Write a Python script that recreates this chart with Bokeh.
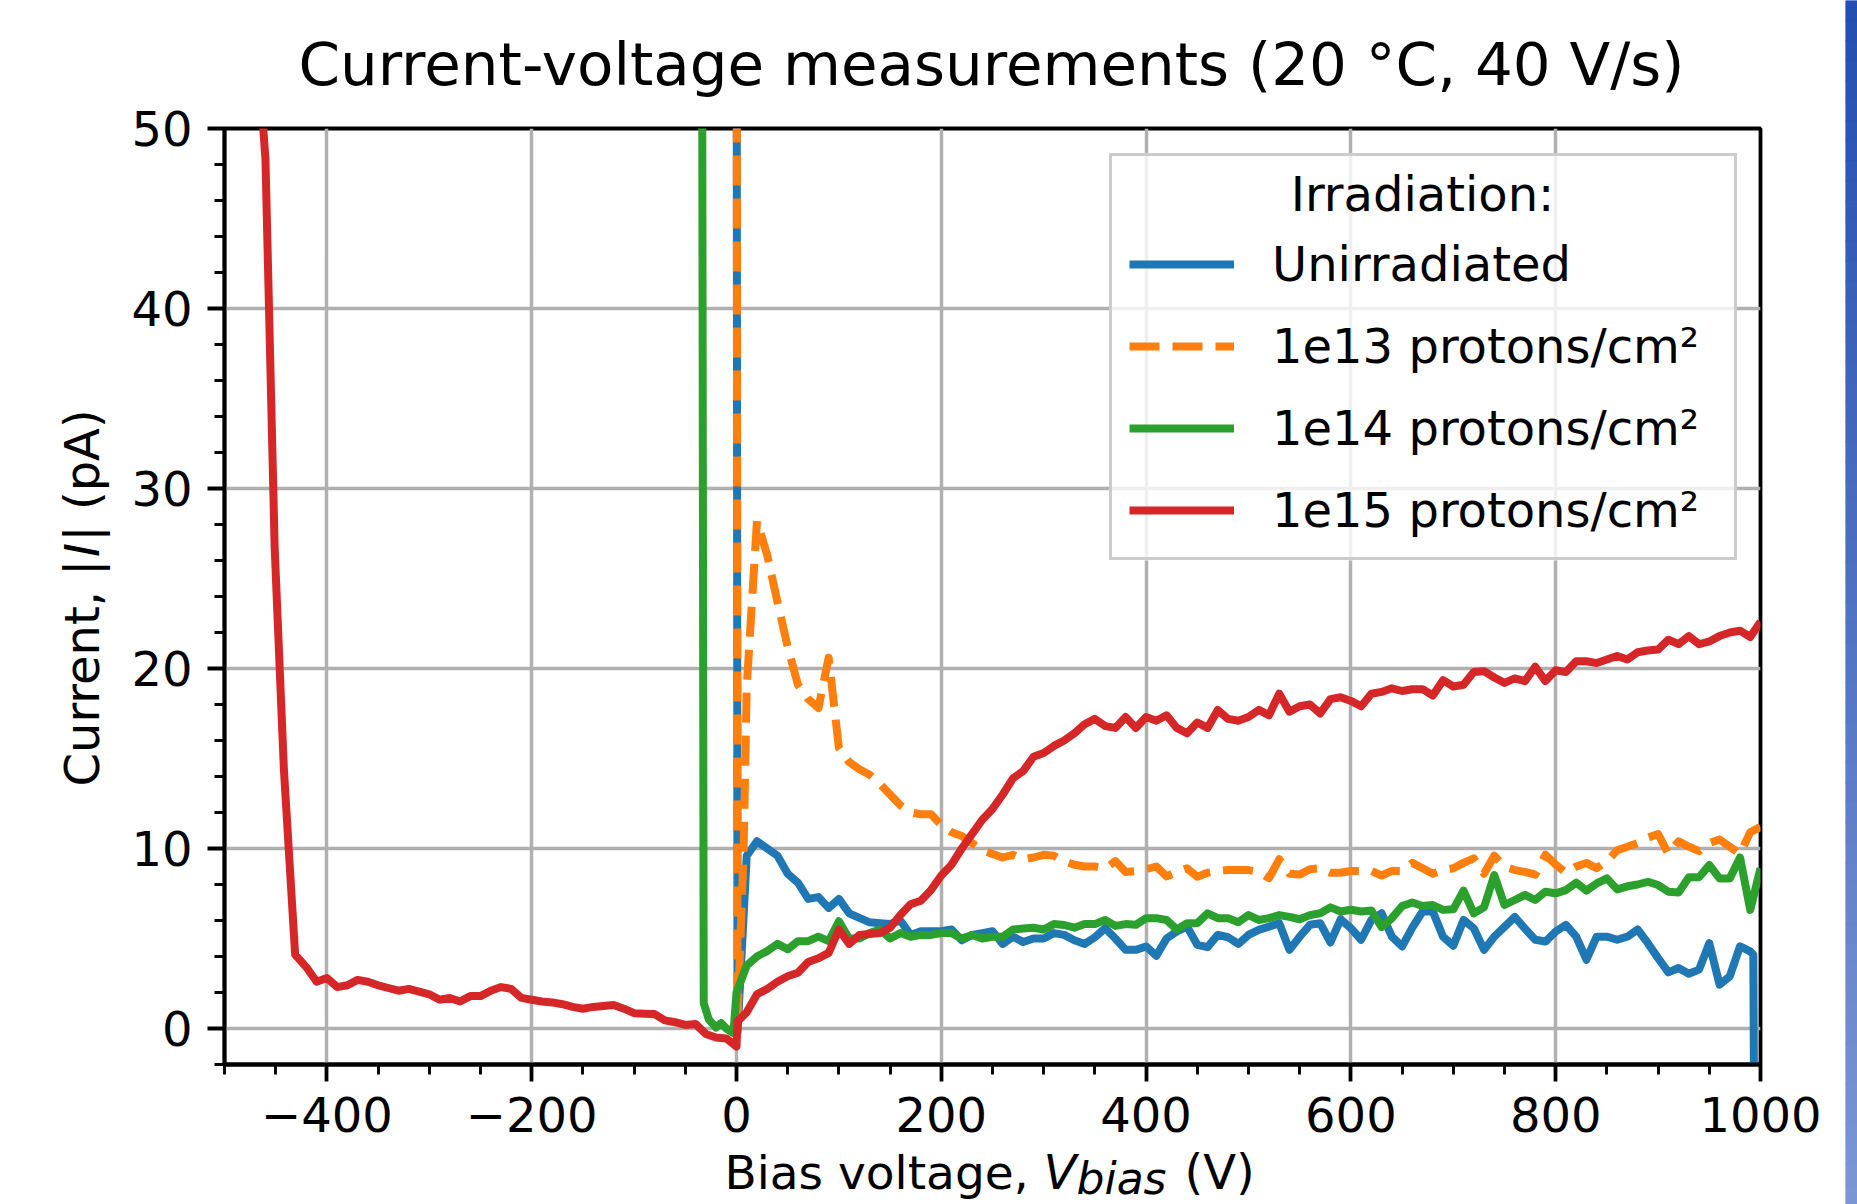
from bokeh.plotting import figure
from bokeh.layouts import row, column
from bokeh.models import Range1d, FixedTicker, Label, Legend, LegendItem, BoxAnnotation
from bokeh.embed import file_html
from bokeh.resources import INLINE

# ---------------- data ----------------
v_unirr = [0, 1, 10, 20, 30, 40, 50, 60, 70, 80, 90, 100, 110, 120, 130, 140, 150, 160, 170, 180,
           190, 200, 210, 220, 230, 240, 250, 260, 270, 280, 290, 300, 310, 320, 330, 340, 350, 360,
           370, 380, 390, 400, 410, 420, 430, 440, 450, 460, 470, 480, 490, 500, 510, 520, 530, 540,
           550, 560, 570, 580, 590, 600, 610, 620, 630, 640, 650, 660, 670, 680, 690, 700, 710, 720,
           730, 740, 750, 760, 770, 780, 790, 800, 810, 820, 830, 840, 850, 860, 870, 880, 890, 900,
           910, 920, 930, 940, 950, 960, 970, 980, 990, 993, 996]
i_unirr = [70, -0.2, 9.6, 10.4, 10.0, 9.6, 8.6, 8.1, 7.2, 7.3, 6.7, 7.2, 6.4, 6.15, 5.9, 5.85, 5.8, 6.0,
           5.2, 5.4, 5.4, 5.4, 5.5, 4.9, 5.2, 5.3, 5.4, 4.7, 5.1, 4.8, 5.0, 5.0, 5.3, 5.2, 4.9, 4.7,
           5.07, 5.57, 5.0, 4.37, 4.37, 4.56, 4.04, 5.0, 5.39, 5.66, 4.65, 4.52, 5.2, 5.07, 4.7, 5.2,
           5.48, 5.66, 5.85, 4.37, 5.1, 5.76, 5.85, 4.78, 6.07, 5.57, 4.93, 6.03, 6.4, 5.1, 4.56, 5.6,
           6.5, 6.5, 5.1, 4.6, 6.03, 5.57, 4.37, 5.1, 5.65, 6.2, 5.55, 4.93, 4.83, 5.39, 5.76, 5.1,
           3.82, 5.1, 5.1, 4.93, 5.1, 5.5, 4.74, 3.91, 3.12, 3.36, 3.04, 3.27, 4.74, 2.44, 2.9, 4.56,
           4.28, 4.1, -30]

v_1e13 = [0, 1, 7, 10, 20, 30, 40, 50, 60, 70, 80, 90, 100, 110, 120, 130, 140, 150, 160, 170, 180,
          190, 200, 210, 220, 230, 240, 250, 260, 270, 280, 290, 300, 310, 320, 330, 340, 350, 360,
          370, 380, 390, 400, 410, 420, 430, 440, 450, 460, 470, 480, 490, 500, 510, 520, 530, 540,
          550, 560, 570, 580, 590, 600, 610, 620, 630, 640, 650, 660, 670, 680, 690, 700, 710, 720,
          730, 740, 750, 760, 770, 780, 790, 800, 810, 820, 830, 840, 850, 860, 870, 880, 890, 900,
          910, 920, 930, 940, 950, 960, 970, 980, 990, 1000]
i_1e13 = [70, 0.5, 10.0, 19.0, 28.2, 26.3, 23.7, 21.2, 19.1, 18.3, 17.8, 20.6, 15.6, 14.8, 14.4, 14.1,
          13.6, 13.0, 12.4, 12.0, 11.9, 11.9, 11.3, 10.9, 10.7, 10.3, 9.9, 9.7, 9.5, 9.65, 9.4, 9.5,
          9.65, 9.6, 9.3, 9.1, 9.0, 9.0, 8.9, 9.3, 8.7, 8.75, 8.85, 9.0, 8.45, 8.7, 8.9, 8.43, 8.65,
          8.75, 8.8, 8.8, 8.8, 8.7, 8.35, 9.4, 8.6, 8.55, 8.85, 8.9, 8.65, 8.65, 8.75, 8.75, 8.76,
          8.5, 8.76, 8.75, 9.2, 8.9, 8.6, 8.8, 8.9, 9.2, 9.45, 8.6, 9.6, 9.0, 8.8, 8.7, 8.55, 9.65,
          9.1, 8.65, 9.0, 9.2, 8.9, 9.3, 9.9, 10.1, 10.3, 10.6, 10.8, 9.7, 10.4, 10.1, 9.85, 10.3,
          10.5, 10.1, 9.7, 10.9, 11.2]

v_1e14 = [-34, -32, -27, -20, -15, -10, -3, 0, 10, 20, 30, 40, 50, 60, 70, 80, 90, 100, 110, 120,
          130, 140, 150, 160, 170, 180, 190, 200, 210, 220, 230, 240, 250, 260, 270, 280, 290, 300,
          310, 320, 330, 340, 350, 360, 370, 380, 390, 400, 410, 420, 430, 440, 450, 460, 470, 480,
          490, 500, 510, 520, 530, 540, 550, 560, 570, 580, 590, 600, 610, 620, 630, 640, 650, 660,
          670, 680, 690, 700, 710, 720, 730, 740, 750, 760, 770, 780, 790, 800, 810, 820, 830, 840,
          850, 860, 870, 880, 890, 900, 910, 920, 930, 940, 950, 960, 970, 980, 990, 1000]
i_1e14 = [70, 1.4, 0.5, 0.05, 0.3, 0.0, -0.25, 2.0, 3.5, 4.0, 4.3, 4.7, 4.4, 4.85, 4.85, 5.1, 4.85,
          5.96, 5.0, 5.0, 5.3, 5.5, 5.0, 5.3, 5.1, 5.2, 5.2, 5.3, 5.3, 5.0, 5.2, 5.0, 5.1, 5.1, 5.5,
          5.55, 5.6, 5.5, 5.8, 5.75, 5.6, 5.8, 5.8, 6.03, 5.7, 5.8, 5.76, 6.13, 6.13, 6.03, 5.5, 5.85,
          5.85, 6.4, 6.13, 6.13, 5.9, 6.3, 6.03, 6.13, 6.3, 6.2, 6.07, 6.3, 6.4, 6.73, 6.5, 6.6, 6.5,
          6.55, 5.63, 6.13, 6.8, 7.0, 6.8, 6.86, 6.59, 6.62, 7.66, 6.4, 6.73, 8.52, 6.86, 7.14, 7.42,
          7.14, 7.6, 7.51, 7.69, 8.1, 7.66, 8.06, 8.34, 7.73, 7.9, 8.0, 8.15, 7.97, 7.6, 7.55, 8.4,
          8.4, 9.08, 8.34, 8.34, 9.5, 6.59, 8.9]

v_1e15 = [-471, -460, -451, -442, -431, -420, -410, -400, -390, -380, -370, -360, -350, -340, -330,
          -320, -310, -300, -290, -280, -270, -260, -250, -240, -230, -220, -210, -200, -190, -180,
          -170, -160, -150, -140, -130, -120, -110, -100, -90, -80, -70, -60, -50, -40, -30, -20,
          -10, 0, 1, 10, 20, 30, 40, 50, 60, 70, 80, 90, 100, 110, 120, 130, 140, 150, 160, 170,
          180, 190, 200, 210, 220, 230, 240, 250, 260, 270, 280, 290, 300, 310, 320, 330, 340, 350,
          360, 370, 380, 390, 400, 410, 420, 430, 440, 450, 460, 470, 480, 490, 500, 510, 520, 530,
          540, 550, 560, 570, 580, 590, 600, 610, 620, 630, 640, 650, 660, 670, 680, 690, 700, 710,
          720, 730, 740, 750, 760, 770, 780, 790, 800, 810, 820, 830, 840, 850, 860, 870, 880, 890,
          900, 910, 920, 930, 940, 950, 960, 970, 980, 990, 1000]
i_1e15 = [57, 48.3, 26.7, 14.4, 4.1, 3.4, 2.6, 2.8, 2.3, 2.4, 2.7, 2.6, 2.4, 2.25, 2.1, 2.2, 2.05,
          1.9, 1.6, 1.7, 1.5, 1.8, 1.8, 2.1, 2.3, 2.2, 1.7, 1.6, 1.5, 1.45, 1.35, 1.2, 1.1, 1.2,
          1.25, 1.3, 1.1, 0.85, 0.82, 0.8, 0.45, 0.35, 0.2, 0.25, -0.3, -0.5, -0.55, -1.0, 0.4, 0.9,
          1.9, 2.2, 2.6, 2.9, 3.1, 3.7, 3.9, 4.2, 5.5, 4.7, 5.2, 5.25, 5.3, 5.6, 6.3, 6.9, 7.1, 7.7,
          8.5, 9.1, 10.0, 10.8, 11.6, 12.2, 13.0, 13.9, 14.3, 15.1, 15.3, 15.7, 16.0, 16.4, 16.9,
          17.2, 16.8, 16.7, 17.3, 16.7, 17.3, 17.1, 17.4, 16.7, 16.4, 17.0, 16.7, 17.7, 17.2, 17.1,
          17.3, 17.7, 17.4, 18.6, 17.6, 17.9, 18.0, 17.5, 18.3, 18.4, 18.2, 17.9, 18.6, 18.7, 18.9,
          18.75, 18.85, 18.85, 18.5, 19.35, 19.0, 19.1, 19.8, 19.85, 19.5, 19.2, 19.45, 19.3, 20.1,
          19.3, 19.9, 19.8, 20.4, 20.4, 20.3, 20.5, 20.7, 20.5, 20.9, 21.0, 21.05, 21.6, 21.35, 21.8,
          21.35, 21.5, 21.8, 22.0, 22.1, 21.75, 22.6]

series_labels = ["Unirradiated", "1e13 protons/cm²", "1e14 protons/cm²", "1e15 protons/cm²"]
series_colors = ["#1f77b4", "#ff7f0e", "#2ca02c", "#d62728"]

x_major = [-400, -200, 0, 200, 400, 600, 800, 1000]
x_minor = list(range(-500, 1001, 50))
y_major = [0, 10, 20, 30, 40, 50]
y_minor = list(range(-2, 51, 2))
x_label_overrides = {-400: "\u2212400", -200: "\u2212200"}

title_text = "Current-voltage measurements (20 \u00b0C, 40 V/s)"
legend_title = "Irradiation:"
xlabel_parts = ["Bias voltage, ", "V", "bias", "(V)"]
ylabel_parts = ["Current, |", "I", "| (pA)"]

FONT = "DejaVu Sans"
BASE = 0.346  # shift (in em) between requested and drawn baseline of a Label


def blank_fig(w, h):
    f = figure(width=w, height=h, output_backend="svg", toolbar_location=None, title=None,
               x_axis_type=None, y_axis_type=None, min_border=0,
               x_range=Range1d(0, 1), y_range=Range1d(0, 1))
    f.outline_line_color = None
    f.background_fill_color = "white"
    f.border_fill_color = "white"
    return f


def txt(x, y, text, size=48, style="normal", align="left", angle=0):
    # y (or x for rotated text) is the wanted baseline; compensate for the drawn offset
    if angle == 0:
        y = y + BASE * size
    else:
        x = x - BASE * size
    return Label(x=x, y=y, x_units="screen", y_units="screen", text=text,
                 text_font=FONT, text_font_size="%gpx" % size, text_font_style=style,
                 text_align=align, text_baseline="alphabetic", text_color="black",
                 angle=angle, angle_units="deg")


# ---------------- main figure ----------------
p = figure(width=1725, height=1056, output_backend="svg", toolbar_location=None,
           x_range=Range1d(-500, 1000), y_range=Range1d(-2, 50), title=None,
           min_border_left=104, min_border_right=85, min_border_top=34, min_border_bottom=86)
p.background_fill_color = "white"
p.border_fill_color = "white"
p.border_fill_alpha = 0
p.outline_line_color = "black"
p.outline_line_width = 3.8

xt = FixedTicker(ticks=x_major, minor_ticks=x_minor)
yt = FixedTicker(ticks=y_major, minor_ticks=y_minor)
p.xaxis.ticker = xt
p.yaxis.ticker = yt
p.xgrid.ticker = xt
p.ygrid.ticker = yt
p.xaxis.major_label_overrides = x_label_overrides

for ax in (p.xaxis, p.yaxis):
    ax.axis_line_color = "black"
    ax.axis_line_width = 3.8
    ax.major_tick_in = 0
    ax.major_tick_out = 17
    ax.major_tick_line_width = 3.8
    ax.major_tick_line_color = "black"
    ax.minor_tick_in = 0
    ax.minor_tick_out = 10
    ax.minor_tick_line_width = 2.9
    ax.minor_tick_line_color = "black"
    ax.major_label_text_font = FONT
    ax.major_label_text_font_size = "48px"
    ax.major_label_text_color = "black"
p.xaxis.major_label_standoff = 15
p.yaxis.major_label_standoff = 15

for g in (p.xgrid, p.ygrid):
    g.grid_line_color = "#b0b0b0"
    g.grid_line_width = 3.5

LW = 8
r_un = p.line(v_unirr, i_unirr, line_color=series_colors[0], line_width=LW, line_join="round")
r_13 = p.line(v_1e13, i_1e13, line_color=series_colors[1], line_width=LW, line_join="round",
              line_dash="30 13")
r_14 = p.line(v_1e14, i_1e14, line_color=series_colors[2], line_width=LW, line_join="round")
r_15 = p.line(v_1e15, i_1e15, line_color=series_colors[3], line_width=LW, line_join="round")

# legend background (semi-transparent white), then its title, then the legend itself
LEG_X, LEG_Y, LEG_W, LEG_H = 885, 504, 626, 405
p.add_layout(BoxAnnotation(left=LEG_X, right=LEG_X + LEG_W, bottom=LEG_Y, top=LEG_Y + LEG_H,
                           left_units="screen", right_units="screen",
                           bottom_units="screen", top_units="screen",
                           fill_color="white", fill_alpha=0.8, line_color=None))
p.add_layout(txt(1198, 854, legend_title, align="center"))

legend = Legend(
    items=[LegendItem(label=series_labels[0], renderers=[r_un]),
           LegendItem(label=series_labels[1], renderers=[r_13]),
           LegendItem(label=series_labels[2], renderers=[r_14]),
           LegendItem(label=series_labels[3], renderers=[r_15])],
    location=(LEG_X, LEG_Y), title=" ",
    title_text_font=FONT, title_text_font_size="48px", title_text_font_style="normal",
    title_standoff=5,
    label_text_font=FONT, label_text_font_size="48px", label_text_color="black",
    glyph_width=105, glyph_height=60, label_height=60, label_standoff=38, label_width=445,
    spacing=22, padding=17, margin=0,
    border_line_color="#cccccc", border_line_width=3.5, border_line_alpha=1.0,
    background_fill_alpha=0.0,
)
p.add_layout(legend)

# ---------------- title ----------------
t_fig = blank_fig(1845, 100)
t_fig.add_layout(txt(991, 15, title_text, size=59.5, align="center"))

# ---------------- y label (its frame is aligned with the main frame) ----------------
yl_fig = blank_fig(120, 1056)
yl_fig.background_fill_alpha = 0
yl_fig.border_fill_alpha = 0
for part, dy, style in zip(ylabel_parts, [0.0, 229.5, 245.0], ["normal", "italic", "normal"]):
    yl_fig.add_layout(txt(98, 278 + dy, part, style=style, angle=90))

# ---------------- x label (overlaps the empty bottom strip of the main figure) ----------------
xl_fig = blank_fig(1845, 64)
xl_fig.background_fill_alpha = 0
xl_fig.border_fill_alpha = 0
xl_fig.margin = (-10, 0, 0, 0)
for part, x, style, size, yb in zip(xlabel_parts, [724, 1043, 1076, 1184],
                                    ["normal", "italic", "italic", "normal"],
                                    [47, 48, 44, 48], [16, 16, 11, 16]):
    xl_fig.add_layout(txt(x, yb, part, size=size, style=style))

# ---------------- right-hand colour strip ----------------
s_fig = blank_fig(12, 1204)
s_fig.y_range = Range1d(0, 60)
strip_top = (0x22, 0x4f, 0xb0)
strip_bot = (0x7c, 0x96, 0xd3)
n = 60
cols = []
for k in range(n):
    f = k / (n - 1)
    c = tuple(int(round(strip_bot[j] + (strip_top[j] - strip_bot[j]) * f)) for j in range(3))
    cols.append("#%02x%02x%02x" % c)
s_fig.quad(left=[0] * n, right=[1] * n, bottom=list(range(n)), top=[k + 1 for k in range(n)],
           fill_color=cols, line_color=cols)

middle = row(yl_fig, p)
middle.margin = (-6, 0, 0, 0)
layout = row(column(t_fig, middle, xl_fig), s_fig)

open("out.html", "w").write(file_html(layout, INLINE))
